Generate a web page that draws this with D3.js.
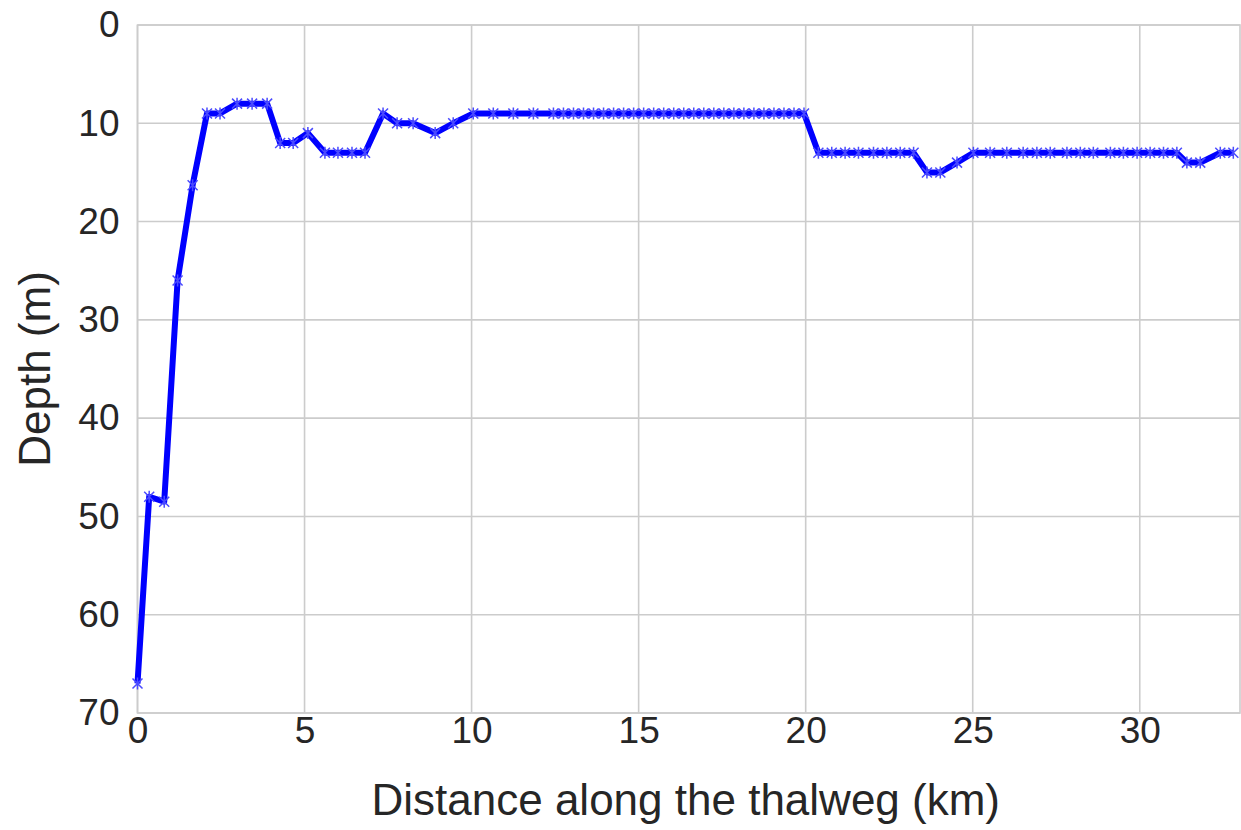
<!DOCTYPE html>
<html>
<head>
<meta charset="utf-8">
<script src="https://cdn.jsdelivr.net/npm/d3@7"></script>
<style>
  html, body { margin: 0; padding: 0; background: #fff; }
  svg { display: block; }
  text { font-family: Arial, "Liberation Sans", sans-serif; fill: #262626; }
</style>
</head>
<body>
<svg id="chart" width="1241" height="830"></svg>
<script>
// Thalweg profile: distance along the channel (km) and bed depth (m)
const distanceKm = [
  0.00, 0.35, 0.80, 1.20, 1.65, 2.08, 2.47, 2.98, 3.43, 3.88,
  4.27, 4.66, 5.10, 5.61, 6.00, 6.42, 6.81, 7.35, 7.77, 8.25,
  8.91, 9.45, 10.05, 10.65, 11.25, 11.85, 12.45, 12.75, 13.05, 13.35,
  13.65, 13.95, 14.25, 14.55, 14.85, 15.15, 15.45, 15.75, 16.05, 16.35,
  16.65, 16.95, 17.25, 17.55, 17.85, 18.15, 18.45, 18.75, 19.05, 19.35,
  19.65, 19.95, 20.38, 20.78, 21.18, 21.58, 22.03, 22.43, 22.83, 23.23,
  23.63, 24.03, 24.53, 25.02, 25.52, 26.02, 26.51, 26.92, 27.32, 27.82,
  28.22, 28.61, 29.12, 29.51, 29.92, 30.31, 30.71, 31.11, 31.41, 31.81,
  32.41, 32.80
];
const depthM = [
  67, 48, 48.5, 26, 16.3, 9, 9, 8, 8, 8,
  12, 12, 11, 13, 13, 13, 13, 9, 10, 10,
  11, 10, 9, 9, 9, 9, 9, 9, 9, 9,
  9, 9, 9, 9, 9, 9, 9, 9, 9, 9,
  9, 9, 9, 9, 9, 9, 9, 9, 9, 9,
  9, 9, 13, 13, 13, 13, 13, 13, 13, 13,
  15, 15, 14, 13, 13, 13, 13, 13, 13, 13,
  13, 13, 13, 13, 13, 13, 13, 13, 14, 14,
  13, 13
];
const xTicks = [0, 5, 10, 15, 20, 25, 30];
const yTicks = [0, 10, 20, 30, 40, 50, 60, 70];
const xTitle = "Distance along the thalweg (km)";
const yTitle = "Depth (m)";

const points = distanceKm.map((d, i) => ({ x: d, y: depthM[i] }));

const svg = d3.select("#chart");
const margin = { left: 137.5, right: 1, top: 25, bottom: 117 };
const W = 1241, H = 830;
const iw = W - margin.left - margin.right;
const ih = H - margin.top - margin.bottom;

const x = d3.scaleLinear().domain([0, 33]).range([0, iw]);
const y = d3.scaleLinear().domain([0, 70]).range([0, ih]);   // depth grows downward

const g = svg.append("g").attr("transform", `translate(${margin.left},${margin.top})`);

// grid
const gridColor = "#cccccc";
g.append("g").selectAll("line").data(xTicks).join("line")
  .attr("x1", d => x(d)).attr("x2", d => x(d))
  .attr("y1", 0).attr("y2", ih)
  .attr("stroke", gridColor).attr("stroke-width", 1.6);
g.append("g").selectAll("line").data(yTicks).join("line")
  .attr("x1", 0).attr("x2", iw)
  .attr("y1", d => y(d)).attr("y2", d => y(d))
  .attr("stroke", gridColor).attr("stroke-width", 1.6);

// frame
g.append("rect").attr("x", 0).attr("y", 0).attr("width", iw).attr("height", ih)
  .attr("fill", "none").attr("stroke", gridColor).attr("stroke-width", 1.6);

// axes (labels only, seaborn whitegrid style)
const xAxis = d3.axisBottom(x).tickValues(xTicks).tickSize(0).tickPadding(4);
const yAxis = d3.axisLeft(y).tickValues(yTicks).tickSize(0).tickPadding(18);

const gx = g.append("g").attr("transform", `translate(0,${ih})`).call(xAxis);
gx.select(".domain").remove();
gx.selectAll("text").attr("font-size", 37).attr("dy", "0.71em").attr("fill", "#262626");

const gy = g.append("g").call(yAxis);
gy.select(".domain").remove();
gy.selectAll("text").attr("font-size", 37).attr("fill", "#262626");

// axis titles
svg.append("text")
  .attr("x", margin.left + iw / 2 - 3)
  .attr("y", 815)
  .attr("text-anchor", "middle")
  .attr("font-size", 44)
  .text(xTitle);

svg.append("text")
  .attr("transform", `translate(50,${margin.top + y(35)}) rotate(-90)`)
  .attr("text-anchor", "middle")
  .attr("font-size", 44)
  .text(yTitle);

// profile line
const line = d3.line().x(d => x(d.x)).y(d => y(d.y));
g.append("path").datum(points)
  .attr("d", line)
  .attr("fill", "none")
  .attr("stroke", "#0000ff")
  .attr("stroke-width", 6)
  .attr("stroke-linejoin", "round");

// star-like markers at each sounding
const m = 5;
g.append("g").selectAll("path").data(points).join("path")
  .attr("d", d => {
    const px = x(d.x), py = y(d.y);
    return `M${px - m},${py - m}L${px + m},${py + m}M${px - m},${py + m}L${px + m},${py - m}M${px},${py - m - 1}L${px},${py + m + 1}`;
  })
  .attr("stroke", "#4a4aff")
  .attr("stroke-width", 1.5)
  .attr("fill", "none");
</script>
</body>
</html>
